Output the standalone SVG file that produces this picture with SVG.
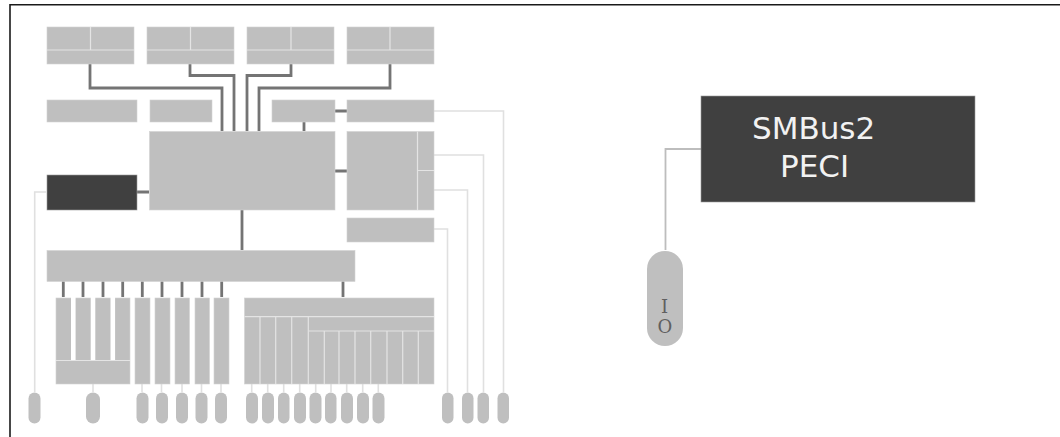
<svg xmlns="http://www.w3.org/2000/svg" width="1060" height="437" viewBox="0 0 1060 437">
<style>
.b{fill:#bfbfbf;stroke:#d2d2d2;stroke-width:.6}
.d{fill:#404040;stroke:#9a9a9a;stroke-width:.6}
.s{stroke:#e4e4e4;stroke-width:1.2;fill:none}
.c{stroke:#747474;stroke-width:2.8;fill:none}
.l{stroke:#e0e0e0;stroke-width:1.6;fill:none}
.p{fill:#bfbfbf}
.t{font-family:"DejaVu Sans","Liberation Sans",sans-serif;fill:#f2f2f2;font-size:31px}
.io{font-family:"DejaVu Serif","Liberation Serif",serif;fill:#606060;font-size:18px;text-anchor:middle}
</style>
<path d="M1060 4.800H10V437" fill="none" stroke="#1a1a1a" stroke-width="1.600"/>
<g id="connectors">
<path class="c" d="M90 63V88H222V131M190 63V75.500H234V131M291 63V75.500H247V131M390 63V88H259V131M304 122V131M335 111H347M335 171H347M137 192H149M242 210V250M343 281V297"/>
<path class="c" d="M63.300 281V297M83 281V297M103 281V297M122.700 281V297M142.300 281V297M162 281V297M182 281V297M202 281V297M221.700 281V297"/>
<path class="l" d="M46 192H34.700V392M434 111H503.500V392M434 155H483.500V392M434 190H467.500V392M434 229H447.500V392"/>
<path class="l" d="M93 384V392M142 384V392M161.500 384V392M182 384V392M201.500 384V392M221 384V392M251.700 384V392M267.700 384V392M283.700 384V392M299.700 384V392M315.700 384V392M331 384V392M346.700 384V392M362.700 384V392M378.300 384V392"/>
<path d="M701 149H665.500V250" fill="none" stroke="#bdbdbd" stroke-width="1.800"/>
</g>
<g id="cpu1"><rect class="b" x="47" y="27" width="87" height="37"/><path class="s" d="M47 50H134M90.500 27V50"/></g>
<g id="cpu2"><rect class="b" x="147" y="27" width="87" height="37"/><path class="s" d="M147 50H234M190.500 27V50"/></g>
<g id="cpu3"><rect class="b" x="247" y="27" width="87" height="37"/><path class="s" d="M247 50H334M291 27V50"/></g>
<g id="cpu4"><rect class="b" x="347" y="27" width="87" height="37"/><path class="s" d="M347 50H434M390 27V50"/></g>
<g id="box-a"><rect class="b" x="47" y="100" width="90" height="22"/></g>
<g id="box-b"><rect class="b" x="150" y="100" width="62" height="22"/></g>
<g id="box-c"><rect class="b" x="272" y="100" width="63" height="22"/></g>
<g id="box-d"><rect class="b" x="347" y="100" width="87" height="22"/></g>
<g id="core"><rect class="b" x="149.500" y="131.500" width="185.500" height="78.500"/></g>
<g id="dark-left"><rect class="d" x="47" y="175" width="90" height="35"/></g>
<g id="right-block"><rect class="b" x="347" y="131.500" width="87" height="78.500"/><path class="s" d="M417.500 131.500V210M418 170.500H434"/></g>
<g id="box-e"><rect class="b" x="347" y="218" width="87" height="24"/></g>
<g id="bus"><rect class="b" x="47" y="250.500" width="308" height="31"/></g>
<g id="group-a">
<rect class="b" x="56" y="298" width="74" height="86"/>
<path d="M73.300 297V360M93 297V360M112.800 297V360" stroke="#fff" stroke-width="4.600" fill="none"/>
<path class="s" d="M56 360.500H130"/>
</g>
<g id="col-1"><rect class="b" x="135" y="298" width="15" height="86"/></g>
<g id="col-2"><rect class="b" x="155" y="298" width="15" height="86"/></g>
<g id="col-3"><rect class="b" x="175" y="298" width="14.500" height="86"/></g>
<g id="col-4"><rect class="b" x="195" y="298" width="14.500" height="86"/></g>
<g id="col-5"><rect class="b" x="214" y="298" width="15" height="86"/></g>
<g id="group-b">
<rect class="b" x="244.500" y="298" width="189.500" height="86"/>
<path class="s" d="M244.500 316.700H434M309 331H434M260 317V384M275.700 317V384M291.700 317V384M308.300 317V384M324.300 331V384M339 331V384M355 331V384M370.700 331V384M387 331V384M402.700 331V384M418.300 331V384"/>
</g>
<g id="pins" class="p">
<rect x="28.500" y="392.500" width="12" height="31" rx="6"/>
<rect x="86" y="392.500" width="14" height="31" rx="7"/>
<rect x="136.500" y="392.500" width="12" height="31" rx="6"/>
<rect x="156" y="392.500" width="12" height="31" rx="6"/>
<rect x="176" y="392.500" width="12" height="31" rx="6"/>
<rect x="195.500" y="392.500" width="12" height="31" rx="6"/>
<rect x="215" y="392.500" width="12" height="31" rx="6"/>
<rect x="246" y="392.500" width="12" height="31" rx="6"/>
<rect x="262" y="392.500" width="12" height="31" rx="6"/>
<rect x="278" y="392.500" width="11.500" height="31" rx="5.750"/>
<rect x="294" y="392.500" width="12" height="31" rx="6"/>
<rect x="309.500" y="392.500" width="12" height="31" rx="6"/>
<rect x="325" y="392.500" width="11.500" height="31" rx="5.750"/>
<rect x="341" y="392.500" width="12" height="31" rx="6"/>
<rect x="357" y="392.500" width="12" height="31" rx="6"/>
<rect x="372.500" y="392.500" width="12" height="31" rx="6"/>
<rect x="442" y="392.500" width="11.500" height="31" rx="5.750"/>
<rect x="462" y="392.500" width="11.500" height="31" rx="5.750"/>
<rect x="477.500" y="392.500" width="11.500" height="31" rx="5.750"/>
<rect x="497.500" y="392.500" width="11.500" height="31" rx="5.750"/>
</g>
<g id="smbus"><rect class="d" x="701" y="96" width="274" height="106"/>
<text class="t" x="752" y="139">SMBus2</text><text class="t" x="780" y="177">PECI</text></g>
<g id="io-pin"><rect class="p" x="647" y="251" width="36" height="95" rx="18"/>
<text class="io" x="664.500" y="313">I</text><text class="io" x="665" y="333">O</text></g>
</svg>
